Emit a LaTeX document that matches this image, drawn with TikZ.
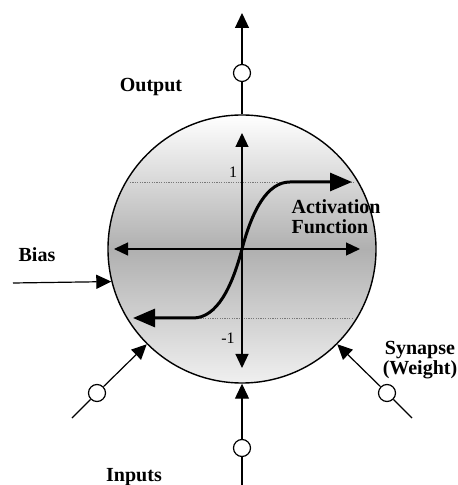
\documentclass[tikz,border=0pt]{standalone}
\usepackage{fontspec}
\setmainfont{Liberation Serif}
\usepackage{tikz}
\usetikzlibrary{arrows.meta, positioning, calc}
\definecolor{axisgray}{RGB}{120,120,120}

\begin{document}
\begin{tikzpicture}[x=0.5pt,y=0.5pt,every node/.style={font=\bfseries},
  syn/.style={draw,circle,fill=white,inner sep=0pt,minimum size=8.5pt,line width=0.6pt},
  arr/.style={-{Triangle[length=7.5pt,width=7pt]},line width=0.6pt}]
  \useasboundingbox (-242,-236) rectangle (216,249);
  % neuron body
  \node[draw,circle,minimum size=134pt,line width=0.7pt,top color=white,
        bottom color=gray!12,middle color=gray!62] (core) at (0,0) {};
  % axes and limits
  \draw[dash pattern=on 0.6pt off 0.6pt,axisgray,line width=0.4pt] (-112,67) -- (113,67);
  \draw[dash pattern=on 0.6pt off 0.6pt,axisgray,line width=0.4pt] (-92,-69) -- (110,-69);
  \draw[{Triangle[length=7pt,width=6.5pt]}-{Triangle[length=7pt,width=6.5pt]},line width=0.6pt]
        (-128,0) -- (118,0);
  \draw[{Triangle[length=7pt,width=6.5pt]}-{Triangle[length=7pt,width=6.5pt]},line width=0.6pt]
        (0,-119) -- (0,116);
  \node[font=\footnotesize] (one) at (-9,77) {1};
  \node[font=\footnotesize] (mone) at (-14,-89) {-1};
  % sigmoid
  \draw[line width=1.5pt,{Triangle[length=11pt,width=9pt]}-{Triangle[length=11pt,width=9pt]}]
        (-109,-69) -- (-49,-69) .. controls (-25,-69) and (-10,-38) .. (0,0)
        .. controls (10,38) and (25,67) .. (48,67) -- (110,67);
  \node[align=left] (act) at (94,32) {Activation\\[-2pt]Function};
  % output
  \node[syn] (out) at (0,176) {};
  \coordinate (outtip) at (0,236);
  \draw[line width=0.6pt] (core.north) -- (out);
  \draw[arr] (out) -- (outtip);
  \node (lblout) at (-91,162) {Output};
  % bias
  \coordinate (biasin) at (-229,-34);
  \draw[arr] (biasin) -- (core.194.7);
  \node (lblbias) at (-205,-6) {Bias};
  % inputs
  \coordinate (inL) at (-170,-169);
  \coordinate (inB) at (0,-236);
  \coordinate (inR) at (170,-169);
  \node[syn] (synL) at (-145,-144) {};
  \node[syn] (synB) at (0,-199) {};
  \node[syn] (synR) at (145,-144) {};
  \draw[line width=0.6pt] (inL) -- (synL);
  \draw[line width=0.6pt] (inB) -- (synB);
  \draw[line width=0.6pt] (inR) -- (synR);
  \draw[arr] (synL) -- (core.225);
  \draw[arr] (synB) -- (core.south);
  \draw[arr] (synR) -- (core.315);
  \node (lblin) at (-108,-228) {Inputs};
  \node[align=center] (lblsyn) at (178,-111) {Synapse\\[-2pt](Weight)};
\end{tikzpicture}
\end{document}
